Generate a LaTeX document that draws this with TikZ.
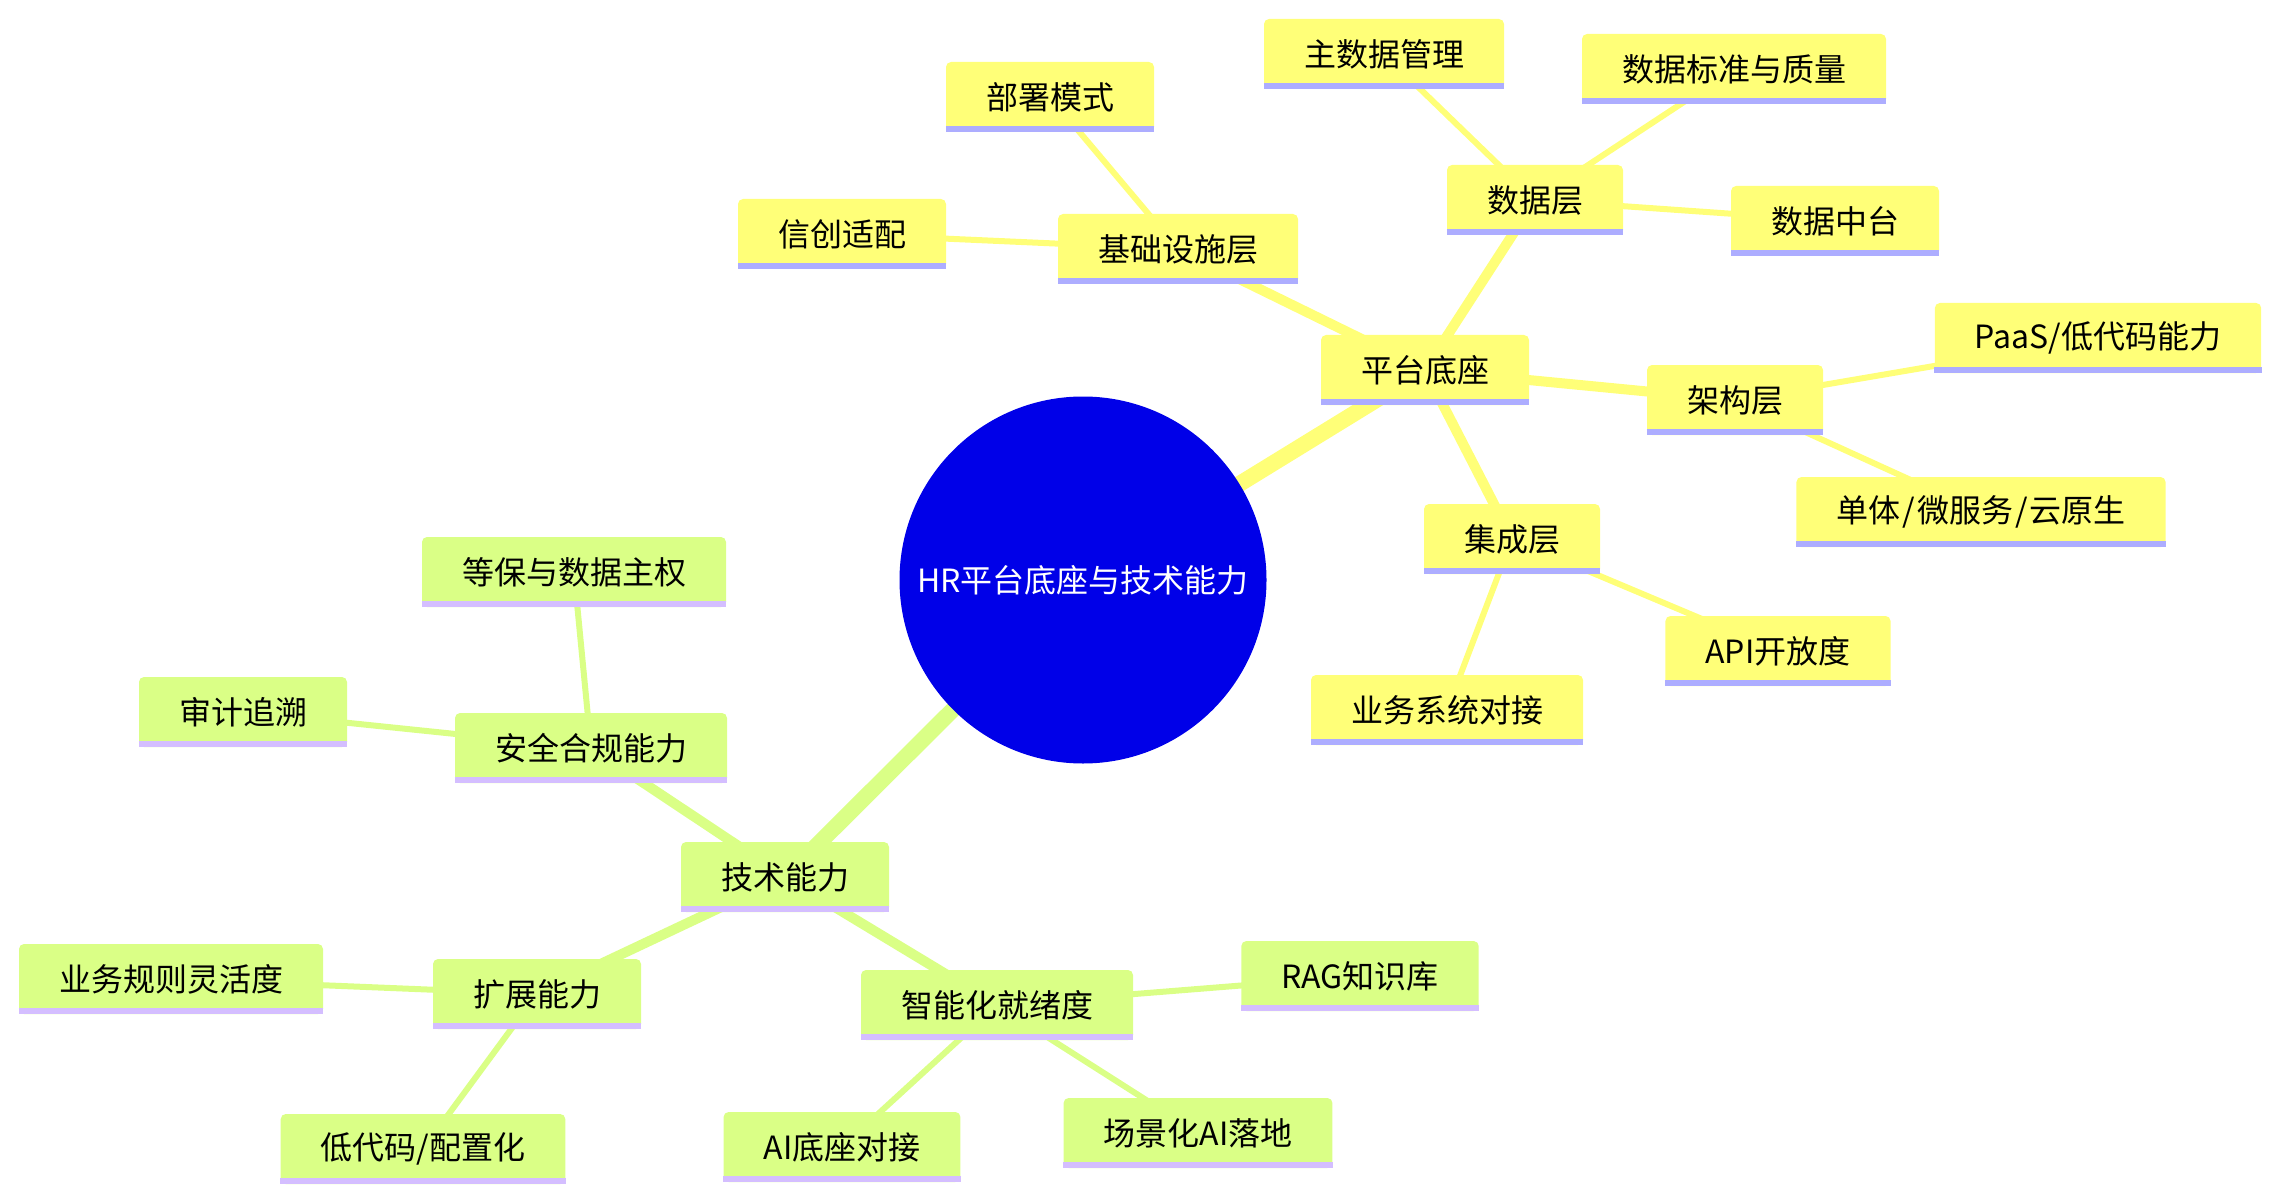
\documentclass[tikz,border=0pt]{standalone}
\usepackage{fontspec}
\setmainfont{Noto Sans CJK SC}
\usepackage{tikz}
\usetikzlibrary{backgrounds}
\definecolor{AzulRaiz}{RGB}{0,0,232}
\definecolor{AmarilloPlat}{RGB}{255,255,120}
\definecolor{LilaPlat}{RGB}{173,173,255}
\definecolor{VerdeTec}{RGB}{218,255,134}
\definecolor{LilaTec}{RGB}{212,190,255}

\begin{document}
\begin{tikzpicture}[x=0.5pt,y=-0.5pt,
    every node/.style={font=\fontsize{16pt}{19pt}\selectfont},
    hoja/.style={rounded corners=2.5pt,minimum height=35pt,inner xsep=20pt,inner ysep=0pt},
    plat/.style={hoja,fill=AmarilloPlat},
    tec/.style={hoja,fill=VerdeTec},
    raiz/.style={circle,fill=AzulRaiz,text=white,minimum size=183.5pt,inner sep=0pt}]
  \useasboundingbox (0,0) rectangle (2278,1203);

  % Raiz
  \node[raiz] (root) at (1083,580) {HR平台底座与技术能力};

  % Rama: 平台底座
  \node[plat] (pt)     at (1425,370) {平台底座};
  \node[plat] (infra)  at (1178,249) {基础设施层};
  \node[plat] (deploy) at (1050,97)  {部署模式};
  \node[plat] (xc)     at (842,234)  {信创适配};
  \node[plat] (data)   at (1535,200) {数据层};
  \node[plat] (mdm)    at (1384,54)  {主数据管理};
  \node[plat] (dstd)   at (1734,69)  {数据标准与质量};
  \node[plat] (dmid)   at (1835,221) {数据中台};
  \node[plat] (arch)   at (1735,400) {架构层};
  \node[plat] (paas)   at (2098,338) {PaaS/低代码能力};
  \node[plat] (mono)   at (1981,512) {单体\kern1pt/\kern1pt微服务\kern1pt/\kern1pt云原生};
  \node[plat] (integ)  at (1512,539) {集成层};
  \node[plat] (api)    at (1778,651) {API开放度};
  \node[plat] (bizsys) at (1447,710) {业务系统对接};

  % Rama: 技术能力
  \node[tec] (tech)    at (785,877)  {技术能力};
  \node[tec] (sec)     at (591,748)  {安全合规能力};
  \node[tec] (dengbao) at (574,572)  {等保与数据主权};
  \node[tec] (audit)   at (243,712)  {审计追溯};
  \node[tec] (ext)     at (537,994)  {扩展能力};
  \node[tec] (rules)   at (171,979)  {业务规则灵活度};
  \node[tec] (lowcode) at (423,1149) {低代码/配置化};
  \node[tec] (ai)      at (997,1005) {智能化就绪度};
  \node[tec] (rag)     at (1360,976) {RAG知识库};
  \node[tec] (aibase)  at (842,1147) {AI底座对接};
  \node[tec] (scene)   at (1198,1133) {场景化AI落地};

  % Barras inferiores
  \foreach \n in {pt,infra,deploy,xc,data,mdm,dstd,dmid,arch,paas,mono,integ,api,bizsys}
    \fill[LilaPlat] (\n.south west) rectangle ([yshift=3pt]\n.south east);
  \foreach \n in {tech,sec,dengbao,audit,ext,rules,lowcode,ai,rag,aibase,scene}
    \fill[LilaTec] (\n.south west) rectangle ([yshift=3pt]\n.south east);

  % Conectores
  \begin{scope}[on background layer]
    \draw[AmarilloPlat,line width=8pt] (root.center) -- (pt.center);
    \draw[VerdeTec,line width=8pt] (root.center) -- (tech.center);
    \foreach \a/\b in {pt/infra,pt/data,pt/arch,pt/integ}
      \draw[AmarilloPlat,line width=5pt] (\a.center) -- (\b.center);
    \foreach \a/\b in {infra/deploy,infra/xc,data/mdm,data/dstd,data/dmid,arch/paas,arch/mono,integ/api,integ/bizsys}
      \draw[AmarilloPlat,line width=3pt] (\a.center) -- (\b.center);
    \foreach \a/\b in {tech/sec,tech/ext,tech/ai}
      \draw[VerdeTec,line width=5pt] (\a.center) -- (\b.center);
    \foreach \a/\b in {sec/dengbao,sec/audit,ext/rules,ext/lowcode,ai/rag,ai/aibase,ai/scene}
      \draw[VerdeTec,line width=3pt] (\a.center) -- (\b.center);
  \end{scope}
\end{tikzpicture}
\end{document}
